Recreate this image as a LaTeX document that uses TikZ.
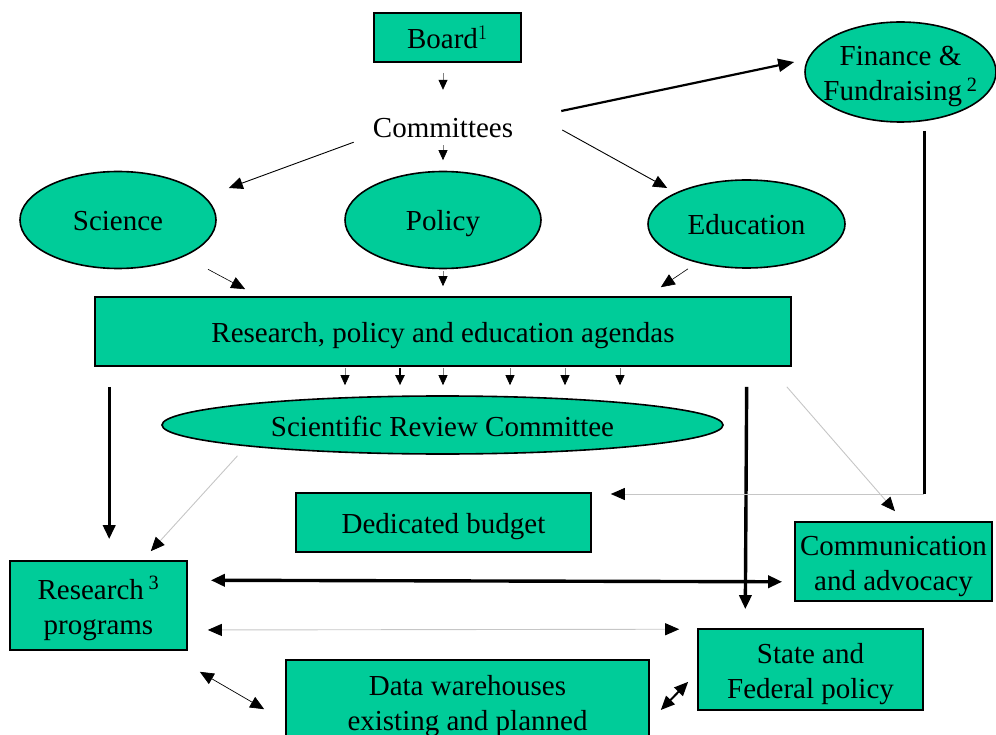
\documentclass[tikz,border=0pt]{standalone}
\usepackage{fontspec}
\setmainfont{Liberation Serif}
\usetikzlibrary{arrows.meta, calc, shapes.geometric}
\definecolor{boardgreen}{RGB}{0,204,153}
\newcommand{\diagfont}{\fontsize{29}{35}\selectfont}
\newcommand{\linestrut}{\rule[-6.5pt]{0pt}{35pt}}
\tikzset{
    bigtip/.tip = {Triangle[length=14pt,width=12pt,color=black]},
    smalltip/.tip = {Triangle[length=10pt,width=9pt,color=black]},
    box/.style = {draw, line width=1.6pt, fill=boardgreen, inner sep=0pt, align=center, font=\diagfont},
    oval/.style = {ellipse, draw, line width=1.6pt, fill=boardgreen, inner sep=0pt, align=center, font=\diagfont},
    arr/.style = {line width=0.9pt, -bigtip},
    small/.style = {line width=0.7pt, draw=gray, -smalltip},
    heavy/.style = {line width=3.4pt, -bigtip},
    faint/.style = {line width=0.9pt, draw=gray!45, -bigtip},
}

\begin{document}
\begin{tikzpicture}[x=1pt, y=-1pt]
    \useasboundingbox (0,0) rectangle (996,735);

    % top of the chart
    \node[box, minimum width=147pt, minimum height=49pt] (board) at (447.5,37.5) {\linestrut Board$^{1}$};
    \node[font=\diagfont, inner sep=0pt, text height=20pt, text depth=0pt] (comm) at (443,128) {Committees};
    \node[oval, minimum width=191pt, minimum height=100pt, inner xsep=-40pt] (fin) at (900.5,72) {\linestrut Finance \&\\\linestrut Fundraising\,\textsuperscript{2}};

    % the three committees
    \node[oval, minimum width=196pt, minimum height=97pt] (sci) at (118,220) {\linestrut Science};
    \node[oval, minimum width=196pt, minimum height=97pt] (pol) at (443,220) {\linestrut Policy};
    \node[oval, minimum width=197pt, minimum height=88pt] (edu) at (746.5,224) {\linestrut Education};

    \node[box, minimum width=696pt, minimum height=69pt] (agenda) at (443,331.5) {\linestrut Research, policy and education agendas};
    \node[oval, minimum width=561pt, minimum height=58pt] (src) at (442.5,425) {\linestrut Scientific Review Committee};

    % lower boxes
    \node[box, minimum width=295pt, minimum height=59pt] (budget) at (443.5,522.5) {\linestrut Dedicated budget};
    \node[box, minimum width=197pt, minimum height=79pt] (comms) at (893.5,561.5) {\linestrut Communication\\\linestrut and advocacy};
    \node[box, minimum width=177pt, minimum height=89pt] (resprog) at (98.5,605.5) {\linestrut Research\,\textsuperscript{3}\\\linestrut programs};
    \node[box, minimum width=225pt, minimum height=81pt] (state) at (810.5,669.5) {\linestrut State and\\\linestrut Federal policy};
    \node[box, minimum width=363pt, minimum height=83pt] (data) at (467.5,701.5) {\linestrut Data warehouses\\\linestrut existing and planned};

    \draw[small, shorten <=10pt, shorten >=28pt] (board.south -| comm.north) -- (comm.north);
    \draw[small, shorten <=7pt, shorten >=10.5pt] (comm.south) -- (pol.north);
    \draw[arr] ($(comm.south west)+(-19,4)$) -- ($(sci.east)+(12,-32)$);
    \draw[arr, line width=2.2pt, -{Triangle[length=16pt,width=13pt]}] ($(comm.east)+(48,-17)$) -- ($(fin.west)+(-10,-10)$);
    \draw[arr] ($(comm.east)+(49,2)$) -- ($(edu.west)+(20,-36)$);

    \draw[arr, line width=0.6pt] ($(sci.south)+(90,0)$) -- ($(agenda.north west)+(151,-7)$);
    \draw[small, shorten <=2pt, shorten >=10pt] (pol.south) -- (agenda.north);
    \draw[arr, line width=0.6pt] ($(edu.south)+(-58.5,0)$) -- ($(agenda.north east)+(-131,-9)$);

    \foreach \x in {345,443,510,565,620}
        \draw[small, shorten <=1pt, shorten >=10pt] ($(agenda.south)+(\x-443,0)$) -- ($(src.north)+(\x-442.5,0)$);
    \draw[small, draw=black, line width=2pt, shorten <=1pt, shorten >=10pt] ($(agenda.south)+(-43,0)$) -- ($(src.north)+(-42.5,0)$);

    \draw[heavy, shorten <=20pt, shorten >=21pt] ($(agenda.south west)+(15,0)$) -- ($(resprog.north west)+(100,0)$);
    \draw[faint] ($(src.south)+(-205,1)$) -- ($(resprog.north east)+(-37,-9)$);
    \draw[heavy, shorten <=20pt, shorten >=19pt] ($(agenda.south east)+(-45,0)$) -- ($(state.north west)+(48,0)$);
    \draw[faint] ($(agenda.south east)+(-5,20)$) -- ($(comms.north)+(1.5,-10)$);

    % finance feeds the budget
    \coordinate (fincorner) at (924,494);
    \draw[line width=3pt, shorten <=8pt] (fin.south -| fincorner) -- (fincorner);
    \draw[faint, shorten >=19pt] (fincorner) -- (budget.east |- fincorner);

    \draw[heavy, bigtip-bigtip, shorten <=23pt, shorten >=12pt] ($(resprog.north east)+(0,20)$) -- ($(comms.south west)+(0,-20)$);
    \draw[faint, bigtip-bigtip, shorten <=20pt, shorten >=18pt] ($(resprog.east)+(0,24.5)$) -- ($(state.north west)+(0,1)$);
    \draw[arr, line width=0.7pt, bigtip-bigtip] ($(resprog.south east)+(12,21)$) -- ($(data.north west)+(-21,50)$);
    \draw[arr, line width=2pt, bigtip-bigtip] ($(data.east)+(11,8.5)$) -- ($(state.south west)+(-9,-29)$);
\end{tikzpicture}
\end{document}
